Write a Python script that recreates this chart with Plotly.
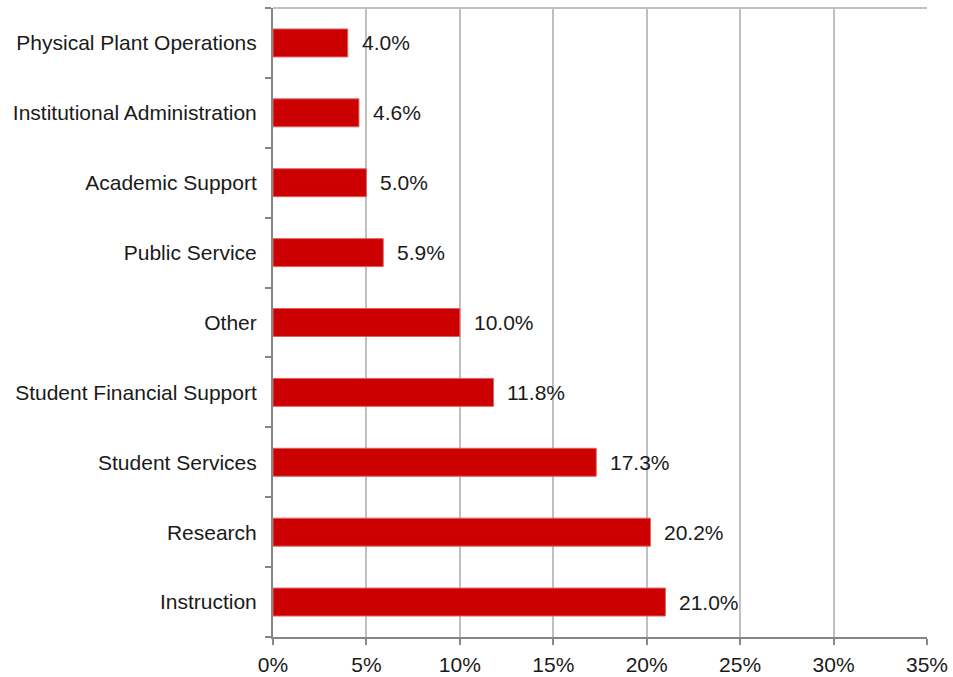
import plotly.graph_objects as go

categories = ["Instruction", "Research", "Student Services", "Student Financial Support",
              "Other", "Public Service", "Academic Support", "Institutional Administration",
              "Physical Plant Operations"]
values = [21.0, 20.2, 17.3, 11.8, 10.0, 5.9, 5.0, 4.6, 4.0]
x_ticks = [0, 5, 10, 15, 20, 25, 30, 35]
x_tick_labels = [f"{v}%" for v in x_ticks]

FONT = "Liberation Sans, Arial, sans-serif"

fig = go.Figure()
fig.add_trace(go.Bar(
    x=values, y=categories, orientation="h",
    marker=dict(color="#CC0000", line=dict(color="#E06060", width=1)),
    width=0.4, hoverinfo="skip",
))

for c, v in zip(categories, values):
    fig.add_annotation(x=v, y=c, text=f"{v:.1f}%", showarrow=False,
                       xanchor="left", yanchor="middle", xshift=12,
                       font=dict(family=FONT, size=21, color="#1a1a1a"))

fig.add_shape(type="line", xref="paper", yref="paper", x0=0, x1=1, y0=1, y1=1,
              line=dict(color="#C0C0C0", width=2))

fig.update_layout(
    width=953, height=677,
    margin=dict(l=273, r=26, t=8, b=40, autoexpand=False),
    paper_bgcolor="white", plot_bgcolor="white",
    showlegend=False,
    font=dict(family=FONT, size=21, color="#1a1a1a"),
    xaxis=dict(range=[0, 35], tickvals=x_ticks, ticktext=x_tick_labels,
               showgrid=True, gridcolor="#C0C0C0", gridwidth=2,
               showline=True, linecolor="#868686", linewidth=2,
               ticks="outside", ticklen=6, tickcolor="#868686", tickwidth=2,
               zeroline=False, fixedrange=True, ticklabelstandoff=2,
               automargin=False),
    yaxis=dict(type="category", categoryorder="array", categoryarray=categories,
               tickson="boundaries", ticks="outside", ticklen=6,
               tickcolor="#868686", tickwidth=2,
               showline=True, linecolor="#868686", linewidth=2,
               showgrid=False, fixedrange=True, ticklabelstandoff=10,
               automargin=False),
)

fig.write_html("out.html",
               config={"displayModeBar": False},
               post_script="document.body.style.margin='0';document.body.style.overflow='hidden';")
